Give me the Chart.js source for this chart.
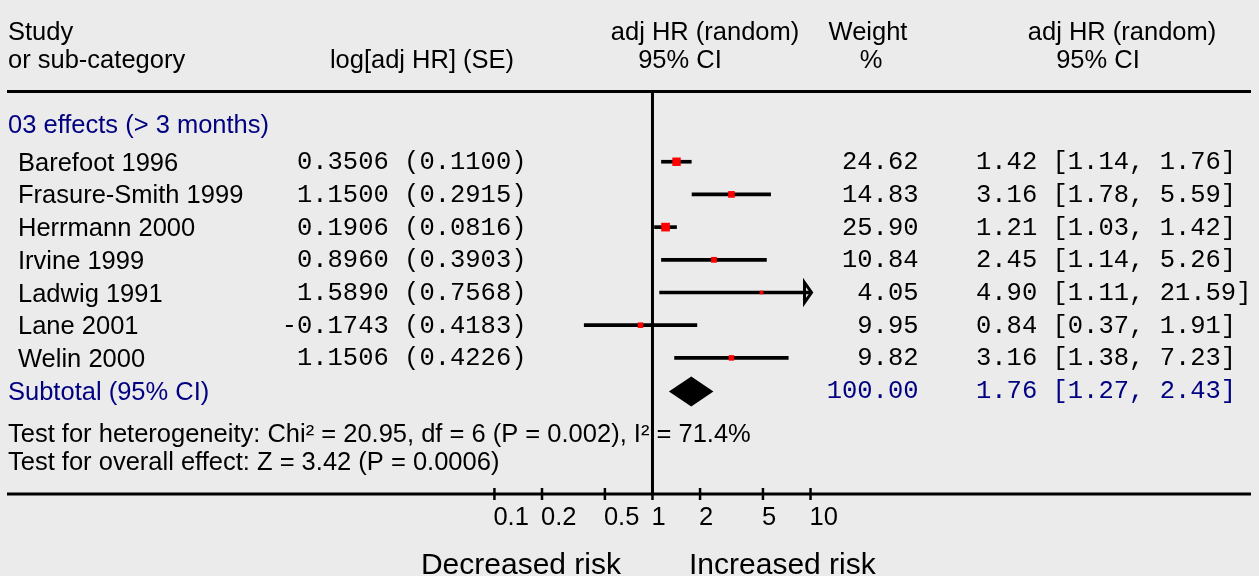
<!DOCTYPE html>
<html>
<head>
<meta charset="utf-8">
<title>Forest plot - adj HR (random)</title>
<script src="https://cdn.jsdelivr.net/npm/chart.js@4.4.1/dist/chart.umd.min.js"></script>
<style>
  html, body { margin: 0; padding: 0; background: #ebebeb; }
  #wrap { width: 1259px; height: 576px; position: relative; }
</style>
</head>
<body>
<div id="wrap"><canvas id="forest"></canvas></div>
<script>
/* ═══════════════════════════
   DATA
═══════════════════════════ */
const groupLabel = '03 effects (> 3 months)';
const studies = ['Barefoot 1996', 'Frasure-Smith 1999', 'Herrmann 2000', 'Irvine 1999', 'Ladwig 1991', 'Lane 2001', 'Welin 2000'];
const logHR = [0.3506, 1.1500, 0.1906, 0.8960, 1.5890, -0.1743, 1.1506];
const seLogHR = [0.1100, 0.2915, 0.0816, 0.3903, 0.7568, 0.4183, 0.4226];
const weights = [24.62, 14.83, 25.90, 10.84, 4.05, 9.95, 9.82];
const hr = [1.42, 3.16, 1.21, 2.45, 4.90, 0.84, 3.16];
const ciLow = [1.14, 1.78, 1.03, 1.14, 1.11, 0.37, 1.38];
const ciHigh = [1.76, 5.59, 1.42, 5.26, 21.59, 1.91, 7.23];

const subtotalWeight = 100.00;
const subtotalHR = 1.76;
const subtotalLow = 1.27;
const subtotalHigh = 2.43;

const xTicks = [0.1, 0.2, 0.5, 1, 2, 5, 10];

const heterogeneityText = 'Test for heterogeneity: Chi\u00b2 = 20.95, df = 6 (P = 0.002), I\u00b2 = 71.4%';
const overallText = 'Test for overall effect: Z = 3.42 (P = 0.0006)';

/* ═══════════════════════════
   LAYOUT
═══════════════════════════ */
const W = 1259, H = 576;
const X_ONE = 652.7;      // pixel of HR = 1
const DECADE = 159.6;     // pixels per log10 unit
const ROW0 = 159, ROW_H = 33.4;

const SANS = '"Liberation Sans", Arial, sans-serif';
const MONO = '"Liberation Mono", "Courier New", monospace';
const NAVY = '#000080';

const xMin = Math.pow(10, -X_ONE / DECADE);
const xMax = Math.pow(10, (W - X_ONE) / DECADE);
const yMin = -ROW0 / ROW_H;
const yMax = (H - ROW0) / ROW_H;
const xLast = xTicks[xTicks.length - 1];

function txt(ctx, s, x, y, opt = {}) {
  ctx.font = opt.font || `25.5px ${SANS}`;
  ctx.fillStyle = opt.color || '#000';
  ctx.textAlign = opt.align || 'left';
  ctx.textBaseline = 'alphabetic';
  ctx.fillText(s, x, y);
}

function hline(ctx, x1, x2, y, w) {
  ctx.beginPath();
  ctx.lineWidth = w;
  ctx.strokeStyle = '#000';
  ctx.moveTo(x1, y);
  ctx.lineTo(x2, y);
  ctx.stroke();
}

const forestPlugin = {
  id: 'forest',
  beforeDraw(chart) {
    const ctx = chart.ctx;
    ctx.save();
    ctx.fillStyle = '#ebebeb';
    ctx.fillRect(0, 0, chart.width, chart.height);
    ctx.restore();
  },
  beforeDatasetsDraw(chart) {
    const ctx = chart.ctx, xs = chart.scales.x;
    const axisY = 494;
    ctx.save();
    // header rule and bottom axis
    hline(ctx, 7, 1251, 91.5, 3);
    hline(ctx, 7, 1251, axisY, 3);
    // line of no effect
    const x1 = xs.getPixelForValue(1);
    ctx.beginPath();
    ctx.lineWidth = 3;
    ctx.moveTo(x1, 92);
    ctx.lineTo(x1, axisY);
    ctx.stroke();
    // ticks + labels
    xTicks.forEach(v => {
      const px = xs.getPixelForValue(v);
      ctx.beginPath();
      ctx.lineWidth = 2.5;
      ctx.moveTo(px, 488);
      ctx.lineTo(px, 500);
      ctx.stroke();
      txt(ctx, String(v), px - 1, 524.5);
    });
    ctx.restore();
  },
  afterDatasetsDraw(chart) {
    const ctx = chart.ctx, xs = chart.scales.x, ys = chart.scales.y;
    ctx.save();

    // arrows for CIs running past the axis
    ciHigh.forEach((hi, i) => {
      if (hi <= xLast) return;
      const px = xs.getPixelForValue(xLast), py = ys.getPixelForValue(i);
      ctx.beginPath();
      ctx.lineWidth = 3;
      ctx.lineJoin = 'miter';
      ctx.strokeStyle = '#000';
      ctx.moveTo(px - 6, py - 10);
      ctx.lineTo(px + 1, py);
      ctx.lineTo(px - 6, py + 10);
      ctx.closePath();
      ctx.stroke();
    });

    // pooled diamond
    const dy = ys.getPixelForValue(studies.length) + 1;
    ctx.beginPath();
    ctx.fillStyle = '#000';
    ctx.moveTo(xs.getPixelForValue(subtotalLow), dy);
    ctx.lineTo(xs.getPixelForValue(subtotalHR), dy - 15);
    ctx.lineTo(xs.getPixelForValue(subtotalHigh), dy);
    ctx.lineTo(xs.getPixelForValue(subtotalHR), dy + 15);
    ctx.closePath();
    ctx.fill();

    // column headers
    txt(ctx, 'Study', 8, 40);
    txt(ctx, 'or sub-category', 8, 68);
    txt(ctx, 'log[adj HR] (SE)', 422, 68, { align: 'center' });
    txt(ctx, 'adj HR (random)', 705, 40, { align: 'center' });
    txt(ctx, '95% CI', 680, 68, { align: 'center' });
    txt(ctx, 'Weight', 868, 40, { align: 'center' });
    txt(ctx, '%', 871, 68, { align: 'center' });
    txt(ctx, 'adj HR (random)', 1122, 40, { align: 'center' });
    txt(ctx, '95% CI', 1098, 68, { align: 'center' });

    txt(ctx, groupLabel, 8, 133, { color: NAVY });

    const mono = `25.5px ${MONO}`;
    studies.forEach((s, i) => {
      const py = ys.getPixelForValue(i);
      txt(ctx, s, 18, py + 9);
      txt(ctx, `${logHR[i].toFixed(4)} (${seLogHR[i].toFixed(4)})`, 526.5, py + 7.5, { font: mono, align: 'right' });
      txt(ctx, weights[i].toFixed(2), 918.5, py + 7.5, { font: mono, align: 'right' });
      txt(ctx, `${hr[i].toFixed(2)} [${ciLow[i].toFixed(2)}, ${ciHigh[i].toFixed(2)}]`, 976, py + 7.5, { font: mono });
    });

    const sy = ys.getPixelForValue(studies.length);
    txt(ctx, 'Subtotal (95% CI)', 8, sy + 9, { color: NAVY });
    txt(ctx, subtotalWeight.toFixed(2), 918.5, sy + 7.5, { font: mono, align: 'right', color: NAVY });
    txt(ctx, `${subtotalHR.toFixed(2)} [${subtotalLow.toFixed(2)}, ${subtotalHigh.toFixed(2)}]`, 976, sy + 7.5, { font: mono, color: NAVY });

    txt(ctx, heterogeneityText, 8, 442);
    txt(ctx, overallText, 8, 470);

    txt(ctx, 'Decreased risk', 621, 574, { font: `30px ${SANS}`, align: 'right' });
    txt(ctx, 'Increased risk', 689, 574, { font: `30px ${SANS}` });

    ctx.restore();
  }
};

// marker side grows with study weight
const markerRadius = weights.map(w => (1.6 * Math.sqrt(w) + 0.5) / Math.SQRT2);

new Chart(document.getElementById('forest'), {
  type: 'bar',
  data: {
    datasets: [
      {
        type: 'scatter',
        label: 'adj HR',
        data: studies.map((s, i) => ({ x: hr[i], y: i })),
        pointStyle: 'rect',
        pointRadius: markerRadius,
        pointBackgroundColor: '#ff0000',
        pointBorderWidth: 0,
        order: 1
      },
      {
        type: 'bar',
        label: '95% CI',
        indexAxis: 'y',
        data: studies.map((s, i) => ({ y: i, x: [ciLow[i], Math.min(ciHigh[i], xLast)] })),
        backgroundColor: '#000',
        barThickness: 3,
        borderWidth: 0,
        order: 2
      }
    ]
  },
  options: {
    responsive: true,
    maintainAspectRatio: false,
    animation: false,
    layout: { padding: 0 },
    plugins: { legend: { display: false }, tooltip: { enabled: false } },
    scales: {
      x: { type: 'logarithmic', min: xMin, max: xMax, bounds: 'data', offset: false, display: false },
      y: { type: 'linear', min: yMin, max: yMax, reverse: true, bounds: 'data', offset: false, grace: 0, display: false }
    }
  },
  plugins: [forestPlugin]
});
</script>
</body>
</html>
